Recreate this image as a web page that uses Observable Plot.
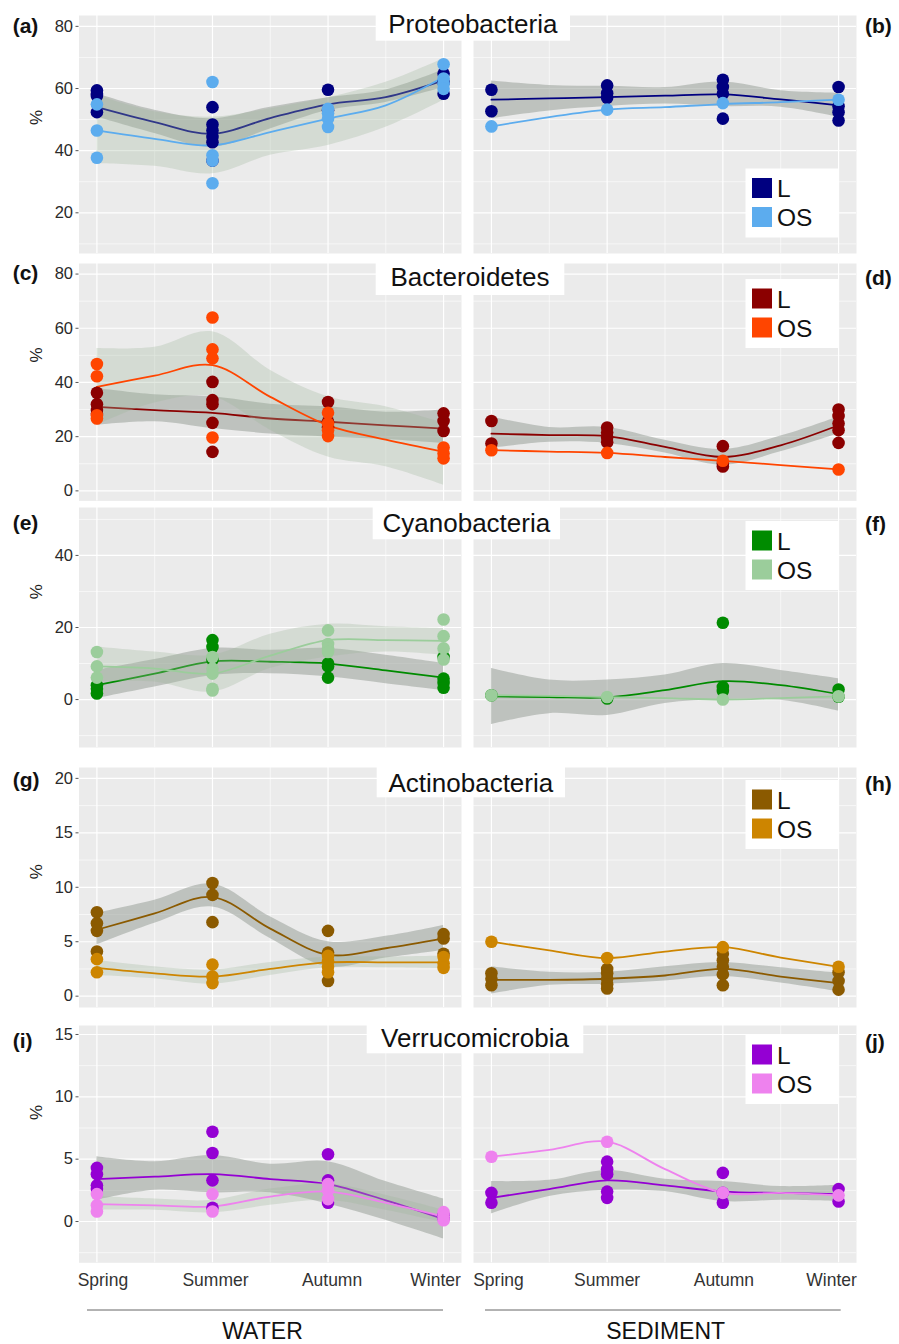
<!DOCTYPE html>
<html><head><meta charset="utf-8">
<script src="https://cdn.jsdelivr.net/npm/d3@7"></script>
<script src="https://cdn.jsdelivr.net/npm/@observablehq/plot@0.6"></script>
<style>
body{margin:0;background:#fff;}
#chart{position:relative;width:899px;height:1344px;overflow:hidden;font-family:"Liberation Sans",Arial,sans-serif;}
</style></head><body><div id="chart"></div>
<script>
// ---------- categories / labels ----------
const seasons = ["Spring", "Summer", "Autumn", "Winter"];
const fitX = [1, 1.5, 2, 2.5, 3, 3.5, 4];
const taxa = ["Proteobacteria", "Bacteroidetes", "Cyanobacteria", "Actinobacteria", "Verrucomicrobia"];
const groups = ["L", "OS"];
const habitats = ["WATER", "SEDIMENT"];
const panelLabels = [["(a)", "(b)"], ["(c)", "(d)"], ["(e)", "(f)"], ["(g)", "(h)"], ["(i)", "(j)"]];
const yTicks = [[20, 40, 60, 80], [0, 20, 40, 60, 80], [0, 20, 40], [0, 5, 10, 15, 20], [0, 5, 10, 15]];
const yMinor = [[10, 30, 50, 70], [10, 30, 50, 70], [-10, 10, 30, 50], [2.5, 7.5, 12.5, 17.5], [-2.5, 2.5, 7.5, 12.5]];
const yDomains = [[6.9, 83.5], [-3.7, 83.9], [-13.3, 53.3], [-1.04, 21.0], [-3.31, 15.72]];
const colorsL = ["#000080", "#8B0000", "#008B00", "#8B5A00", "#9400D3"];
const colorsOS = ["#5CACEE", "#FF4500", "#9BCD9B", "#CD8500", "#EE82EE"];

// ---------- values (per season: sample points; smooth fit/lo/hi at fitX) ----------
// (a) Proteobacteria, water
const aL_pts = [[59.4, 58.3, 57.6, 52.4], [54.0, 48.4, 46.5, 44.4, 42.7, 36.8], [59.6, 53.0], [58.3, 64.8, 62.0]];
const aOS_pts = [[54.9, 46.5, 37.7], [62.1, 38.5, 36.8, 29.5], [53.5, 52.0, 50.3, 47.6], [67.8, 63.2, 61.5, 59.9]];
const aL_fit = [54.0, 49.2, 45.4, 50.5, 54.9, 57.2, 62.6];
const aL_lo = [50.8, 45.5, 41.1, 47.0, 52.9, 55.5, 60.3];
const aL_hi = [58.3, 53.0, 50.3, 54.0, 57.0, 59.5, 66.0];
const aOS_fit = [46.5, 43.8, 41.7, 46.0, 50.3, 54.6, 63.7];
const aOS_lo = [35.8, 35.0, 32.6, 38.5, 41.7, 47.5, 56.2];
const aOS_hi = [57.8, 52.5, 50.8, 53.5, 57.0, 62.0, 69.6];
// (b) Proteobacteria, sediment
const bL_pts = [[59.6, 52.7], [61.0, 58.5, 57.0], [62.8, 60.5, 58.3, 50.3], [60.5, 54.3, 52.4, 49.7]];
const bOS_pts = [[47.8], [53.2], [55.3], [56.4]];
const bL_fit = [56.4, 56.8, 57.2, 57.7, 58.1, 56.5, 54.6];
const bL_lo = [50.3, 52.8, 54.2, 55.0, 54.2, 54.0, 50.8];
const bL_hi = [62.4, 61.0, 60.7, 60.3, 62.1, 59.3, 58.5];
const bOS_fit = [47.8, 50.8, 53.2, 54.0, 55.0, 55.6, 56.4];
// (c) Bacteroidetes, water
const cL_pts = [[36.2, 32.0, 29.8, 28.5], [40.2, 33.5, 32.0, 25.1, 14.4], [32.8, 25.5, 23.5], [28.6, 25.8, 22.1]];
const cOS_pts = [[46.8, 42.3, 27.9, 26.7], [64.0, 52.2, 48.9, 19.7], [28.8, 24.9, 22.4, 20.2], [16.0, 13.8, 12.0]];
const cL_fit = [31.0, 29.8, 28.8, 26.7, 25.5, 24.2, 23.0];
const cL_lo = [24.2, 25.5, 23.0, 21.0, 19.9, 19.0, 17.5];
const cL_hi = [37.8, 35.5, 34.7, 32.0, 31.0, 29.0, 29.8];
const cOS_fit = [38.4, 42.5, 46.4, 34.7, 24.2, 18.9, 14.4];
const cOS_lo = [24.2, 32.4, 34.7, 22.4, 12.5, 8.9, 2.1];
const cOS_hi = [52.5, 53.0, 58.7, 44.5, 34.7, 31.0, 24.9];
// (d) Bacteroidetes, sediment
const dL_pts = [[25.8, 17.5], [23.4, 21.5, 19.7, 17.9], [16.5, 10.1, 9.0], [30.0, 27.6, 24.9, 22.4, 17.7]];
const dOS_pts = [[15.0], [14.0], [11.1], [7.9]];
const dL_fit = [21.1, 20.6, 20.2, 16.2, 12.5, 16.8, 24.2];
const dL_lo = [15.6, 17.9, 17.5, 14.0, 9.5, 14.4, 21.1];
const dL_hi = [27.3, 23.4, 23.4, 18.7, 15.3, 20.2, 27.3];
const dOS_fit = [15.0, 14.5, 14.0, 12.5, 11.1, 9.5, 7.9];
// (e) Cyanobacteria, water
const eL_pts = [[4.0, 3.0, 1.7], [16.5, 14.6, 11.0], [10.0, 9.2, 6.1], [11.8, 5.8, 4.6, 3.3]];
const eOS_pts = [[13.2, 9.2, 6.1], [11.8, 8.6, 7.2, 3.0, 2.5], [19.2, 15.4, 14.2, 13.2], [22.2, 17.6, 14.2, 11.1]];
const eL_fit = [4.0, 7.2, 10.6, 10.5, 10.0, 8.1, 6.1];
const eL_lo = [0.3, 3.5, 6.7, 7.2, 6.3, 4.4, 2.5];
const eL_hi = [8.1, 11.1, 14.2, 13.7, 14.2, 12.3, 10.0];
const eOS_fit = [9.2, 8.6, 7.2, 12.2, 16.5, 16.5, 16.3];
const eOS_lo = [4.9, 4.9, 2.1, 8.6, 11.8, 13.2, 12.3];
const eOS_hi = [14.6, 13.2, 12.3, 18.1, 20.9, 20.2, 19.7];
// (f) Cyanobacteria, sediment
const fL_pts = [[1.2], [0.3], [21.3, 3.5, 2.4], [2.8, 0.8]];
const fOS_pts = [[1.2], [0.7], [0.0], [0.9]];
const fL_fit = [0.9, 0.7, 0.6, 2.6, 5.1, 4.0, 1.5];
const fL_lo = [-6.9, -3.9, -4.4, -1.1, 0.0, -0.2, -3.2];
const fL_hi = [8.6, 5.4, 5.4, 6.8, 10.0, 8.1, 5.8];
const fOS_fit = [1.2, 1.0, 0.7, 0.4, 0.0, 0.4, 0.9];
// (g) Actinobacteria, water
const gL_pts = [[7.7, 6.7, 6.0, 4.1], [10.4, 9.3, 6.8], [6.0, 4.0, 1.4], [5.7, 5.3, 3.9]];
const gOS_pts = [[3.4, 2.2], [2.9, 1.8, 1.2], [3.7, 3.2, 2.7, 2.2], [3.6, 3.0, 2.6]];
const gL_fit = [6.1, 7.6, 9.1, 6.2, 3.8, 4.4, 5.3];
const gL_lo = [4.7, 6.7, 8.2, 5.3, 2.7, 3.5, 4.2];
const gL_hi = [7.6, 8.8, 10.3, 7.3, 5.0, 5.5, 6.5];
const gOS_fit = [2.6, 2.1, 1.8, 2.5, 3.1, 3.1, 3.1];
const gOS_lo = [1.9, 1.6, 1.1, 1.9, 2.6, 2.6, 2.5];
const gOS_hi = [3.3, 2.7, 2.4, 3.1, 3.6, 3.6, 3.7];
// (h) Actinobacteria, sediment
const hL_pts = [[2.1, 1.6, 1.0], [2.5, 2.1, 1.6, 1.1, 0.7], [3.9, 3.3, 2.7, 2.0, 1.0], [2.2, 1.4, 0.6]];
const hOS_pts = [[5.0], [3.5], [4.5], [2.7]];
const hL_fit = [1.5, 1.5, 1.6, 1.9, 2.5, 1.8, 1.2];
const hL_lo = [0.2, 1.0, 1.1, 1.4, 1.8, 1.2, 0.4];
const hL_hi = [2.7, 2.2, 2.2, 2.7, 3.1, 2.6, 2.1];
const hOS_fit = [5.0, 4.2, 3.5, 4.1, 4.5, 3.55, 2.7];
// (i) Verrucomicrobia, water
const iL_pts = [[4.3, 3.8, 2.9, 2.6], [7.2, 5.5, 3.3, 1.1], [5.4, 3.3, 1.5], [0.2, 0.5]];
const iOS_pts = [[2.2, 1.3, 0.8], [2.2, 0.8], [3.0, 2.5, 1.8], [0.75, 0.4, 0.1]];
const iL_fit = [3.4, 3.6, 3.8, 3.4, 3.0, 1.7, 0.2];
const iL_lo = [1.7, 2.5, 2.3, 2.3, 1.4, 0.1, -1.4];
const iL_hi = [5.2, 4.8, 5.3, 4.6, 4.8, 3.2, 1.8];
const iOS_fit = [1.4, 1.3, 1.2, 2.0, 2.4, 1.5, 0.4];
const iOS_lo = [0.9, 0.9, 0.7, 1.3, 1.7, 0.9, -0.1];
const iOS_hi = [2.0, 1.8, 1.7, 2.6, 3.0, 2.1, 0.9];
// (j) Verrucomicrobia, sediment
const jL_pts = [[2.3, 1.5], [4.8, 4.2, 3.8, 2.4, 1.9], [3.9, 2.3, 1.5], [2.6, 1.6]];
const jOS_pts = [[5.2], [6.4], [2.3], [2.1]];
const jL_fit = [1.9, 2.6, 3.3, 2.9, 2.4, 2.3, 2.2];
const jL_lo = [0.6, 2.0, 2.5, 2.4, 1.6, 1.7, 1.6];
const jL_hi = [3.2, 3.3, 4.1, 3.4, 3.2, 2.8, 2.9];
const jOS_fit = [5.2, 5.75, 6.4, 4.2, 2.3, 2.3, 2.1];

const panelData = [
  [{L: [aL_pts, aL_fit, aL_lo, aL_hi], OS: [aOS_pts, aOS_fit, aOS_lo, aOS_hi]},
   {L: [bL_pts, bL_fit, bL_lo, bL_hi], OS: [bOS_pts, bOS_fit, null, null]}],
  [{L: [cL_pts, cL_fit, cL_lo, cL_hi], OS: [cOS_pts, cOS_fit, cOS_lo, cOS_hi]},
   {L: [dL_pts, dL_fit, dL_lo, dL_hi], OS: [dOS_pts, dOS_fit, null, null]}],
  [{L: [eL_pts, eL_fit, eL_lo, eL_hi], OS: [eOS_pts, eOS_fit, eOS_lo, eOS_hi]},
   {L: [fL_pts, fL_fit, fL_lo, fL_hi], OS: [fOS_pts, fOS_fit, null, null]}],
  [{L: [gL_pts, gL_fit, gL_lo, gL_hi], OS: [gOS_pts, gOS_fit, gOS_lo, gOS_hi]},
   {L: [hL_pts, hL_fit, hL_lo, hL_hi], OS: [hOS_pts, hOS_fit, null, null]}],
  [{L: [iL_pts, iL_fit, iL_lo, iL_hi], OS: [iOS_pts, iOS_fit, iOS_lo, iOS_hi]},
   {L: [jL_pts, jL_fit, jL_lo, jL_hi], OS: [jOS_pts, jOS_fit, null, null]}]
];

// ---------- layout / style ----------
const rowTop = [15, 263.3, 507.3, 767.3, 1025];
const rowBottom = [253, 500.7, 747.3, 1007.3, 1262.3];
const colLeft = [78.5, 472.7];
const colRight = [461, 855.7];
const xDomain = [0.845, 4.155];
const bandFill = ["#99a099", "#9fb59a"];
const bandOpacity = [0.55, 0.3];
const labelDx = [[6, 3, 4, -8], [7, 0, 1, -7]];
const FONT = '"Liberation Sans", Arial, Helvetica, sans-serif';

const chart = document.getElementById("chart");

function buildPanel(r, c) {
  const pd = panelData[r][c];
  const isLeft = c === 0, isBottom = r === rowTop.length - 1;
  const frameW = colRight[c] - colLeft[c];
  const frameH = rowBottom[r] - rowTop[r];
  const ml = isLeft ? colLeft[0] : 0;
  const mb = isBottom ? 40 : 0;
  const gridOpts = (w) => ({stroke: "#ffffff", strokeOpacity: 1, strokeWidth: w});
  const marks = [
    Plot.frame({fill: "#EBEBEB", stroke: null}),
    Plot.gridY(yMinor[r], gridOpts(0.6)),
    Plot.gridX([1.5, 2.5, 3.5], gridOpts(0.6)),
    Plot.gridY(yTicks[r], gridOpts(1.2)),
    Plot.gridX([1, 2, 3, 4], gridOpts(1.2))
  ];
  groups.forEach((g, gi) => {
    const [, fit, lo, hi] = pd[g];
    const color = gi === 0 ? colorsL[r] : colorsOS[r];
    const rows = fitX.map((x, k) => ({x, y: fit[k], lo: lo ? lo[k] : null, hi: hi ? hi[k] : null}));
    if (lo) marks.push(Plot.areaY(rows, {x: "x", y1: "lo", y2: "hi", fill: bandFill[gi], fillOpacity: bandOpacity[gi], curve: "catmull-rom"}));
    marks.push(Plot.line(rows, {x: "x", y: "y", stroke: color, strokeWidth: 1.8, curve: "catmull-rom"}));
  });
  groups.forEach((g, gi) => {
    const [pts] = pd[g];
    const color = gi === 0 ? colorsL[r] : colorsOS[r];
    const rows = pts.flatMap((vals, si) => vals.map(v => ({x: si + 1, y: v})));
    marks.push(Plot.dot(rows, {x: "x", y: "y", r: 6.3, fill: color, stroke: null}));
  });
  if (isLeft) {
    marks.push(Plot.axisY(yTicks[r], {tickSize: 3, tickPadding: 3, fontSize: 16.5, label: null, stroke: "#555", fill: "#2a2a2a"}));
  }
  if (isBottom) {
    seasons.forEach((s, i) => {
      marks.push(Plot.text([s], {x: () => i + 1, text: d => d, frameAnchor: "bottom", dy: 17.2, dx: labelDx[c][i], fontSize: 17.5, fill: "#333", lineAnchor: "middle"}));
    });
  }
  const svg = Plot.plot({
    width: ml + frameW, height: frameH + mb,
    marginLeft: ml, marginRight: 0, marginTop: 0, marginBottom: mb,
    x: {type: "linear", domain: xDomain, axis: null},
    y: {type: "linear", domain: yDomains[r], axis: null},
    style: {background: "transparent", overflow: "visible", fontFamily: FONT},
    marks
  });
  svg.style.position = "absolute";
  svg.style.left = (isLeft ? 0 : colLeft[1]) + "px";
  svg.style.top = rowTop[r] + "px";
  chart.appendChild(svg);
}

for (let r = 0; r < 5; r++) for (let c = 0; c < 2; c++) buildPanel(r, c);

// ---------- overlay: titles, panel letters, legends, axis labels ----------
const titleBox = [[375.7, 7, 570, 40.7], [375.7, 257, 564.3, 295], [372.7, 503, 560, 539.3], [376.7, 762, 565, 797.3], [366.7, 1018, 583.3, 1053.3]];
const titleBase = [33, 286, 531.5, 791.5, 1046.5];
const letterBase = [[33, 33], [279.5, 285], [529.5, 531], [787, 791], [1047.5, 1049]];
const letterX = [12.7, 865];
const pctY = [117.5, 355, 591.7, 871.7, 1112.5];
const legendTop = [168.5, 279, 521, 780, 1035];

const ov = d3.select(chart).append("svg")
  .attr("width", 899).attr("height", 1344)
  .style("position", "absolute").style("left", "0px").style("top", "0px")
  .style("font-family", FONT);

for (let r = 0; r < 5; r++) {
  const [x1, y1, x2, y2] = titleBox[r];
  ov.append("rect").attr("x", x1).attr("y", y1).attr("width", x2 - x1).attr("height", y2 - y1).attr("fill", "#fff");
  ov.append("text").attr("x", (x1 + x2) / 2).attr("y", titleBase[r]).attr("text-anchor", "middle")
    .attr("font-size", 26).attr("fill", "#111").text(taxa[r]);
  for (let c = 0; c < 2; c++) {
    ov.append("text").attr("x", letterX[c]).attr("y", letterBase[r][c]).attr("font-size", 21)
      .attr("font-weight", "bold").attr("fill", "#111").text(panelLabels[r][c]);
  }
  ov.append("text").attr("transform", `translate(42,${pctY[r]}) rotate(-90)`).attr("text-anchor", "middle")
    .attr("font-size", 17).attr("fill", "#222").text("%");
  const T = legendTop[r];
  ov.append("rect").attr("x", 745.5).attr("y", T).attr("width", 92.5).attr("height", 69).attr("fill", "#fff");
  groups.forEach((g, gi) => {
    const sy = T + 9.5 + gi * 29;
    ov.append("rect").attr("x", 752).attr("y", sy).attr("width", 20).attr("height", 20)
      .attr("fill", gi === 0 ? colorsL[r] : colorsOS[r]);
    ov.append("text").attr("x", 777).attr("y", sy + 19).attr("font-size", 24.5).attr("fill", "#111").text(g);
  });
}

const habLine = [[87, 443], [485, 840.7]];
habitats.forEach((h, i) => {
  ov.append("line").attr("x1", habLine[i][0]).attr("x2", habLine[i][1]).attr("y1", 1310).attr("y2", 1310)
    .attr("stroke", "#666").attr("stroke-width", 1);
  ov.append("text").attr("x", i === 0 ? 262.5 : 665.7).attr("y", 1338.5).attr("text-anchor", "middle")
    .attr("font-size", 23).attr("fill", "#111").text(h);
});
</script></body></html>
